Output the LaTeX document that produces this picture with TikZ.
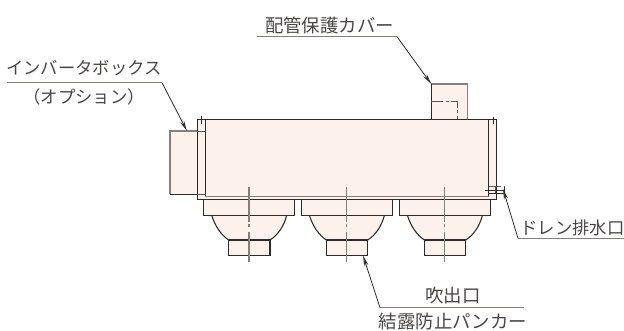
\documentclass[tikz,border=0pt]{standalone}
\usepackage{fontspec}
\setmainfont{Noto Sans CJK JP}
\usetikzlibrary{arrows.meta}
\definecolor{bodyfill}{HTML}{FCF2EB}
\definecolor{inkdark}{HTML}{2E2A2A}
\definecolor{inkgrey}{HTML}{857F7C}
\definecolor{labelink}{HTML}{4A4646}
\tikzset{
  outline/.style={draw=inkdark,line width=0.8pt,fill=bodyfill},
  softedge/.style={draw=inkgrey,line width=1pt},
  hiddenline/.style={draw=inkdark!80,line width=0.7pt,dash pattern=on 9pt off 2pt on 2pt off 2pt},
  centerline/.style={draw=inkgrey,line width=1pt,dash pattern=on 26pt off 1.5pt on 2pt off 4pt on 40pt},
  thinline/.style={draw=inkdark,line width=0.5pt},
  rule/.style={draw=inkgrey,line width=0.9pt},
  leader/.style={draw=inkdark,line width=0.6pt,-{Stealth[open,length=8pt,width=3.2pt]}},
  caption/.style={inner sep=0pt,text=labelink,font=\fontsize{13pt}{13pt}\selectfont},
  bigcaption/.style={caption,font=\fontsize{13.8pt}{14pt}\selectfont},
}
\begin{document}
\begin{tikzpicture}[x=0.75pt,y=0.75pt,yscale=-1,xscale=1]
\useasboundingbox (0,0) rectangle (624,331);

%Shape: Inverter box
\fill [bodyfill] (170,131) rectangle (197,194);
\draw [softedge] (197,131) -- (170,131) -- (170,194);
\draw [thinline] (170,194) -- (197,194);
%Shape: Cover
\fill [bodyfill] (431.3,84) rectangle (467.3,119.5);
\draw [softedge] (431.3,84) -- (467.3,84) -- (467.3,119.5);
\draw [outline,fill=none] (431.3,84) -- (431.3,119.5);
\draw [hiddenline] (431.3,101.7) -- (457.3,101.7) -- (457.3,119.5);
%Shape: Body
\draw [outline] (197.3,119.3) rectangle (496.3,199.3);
\draw [outline,fill=none] (205.3,119.3) -- (205.3,196.7);
\draw [outline,fill=none] (488.7,119.3) -- (488.7,196.7);
\draw [softedge,line width=1.4pt] (205.3,196.5) -- (488.7,196.5);
\draw [hiddenline] (197.3,131) -- (205.3,131);
\draw [hiddenline] (197.3,194) -- (205.3,194);
\draw [thinline] (201,116) -- (201,124);
\draw [thinline] (493,117) -- (493,124);

%Shape: Outlet left
\draw [outline] (211.7,215.3) .. controls (215,226) and (221,235) .. (228.7,240) -- (270,240) .. controls (278,235) and (284,226) .. (286.7,215.3) -- cycle;
\draw [outline] (203.7,199.3) rectangle (294.3,215.3);
\draw [outline] (228.7,240) rectangle (270,255.3);
\draw [centerline] (249,187.3) -- (249,261.7);
%Shape: Outlet middle
\draw [outline] (309.4,215.3) .. controls (312.7,226) and (318.7,235) .. (326.4,240) -- (367.7,240) .. controls (375.7,235) and (381.7,226) .. (384.4,215.3) -- cycle;
\draw [outline] (301.3,199.3) rectangle (392.3,215.3);
\draw [outline] (326.4,240) rectangle (367.7,255.3);
\draw [centerline] (346.7,187.3) -- (346.7,261.7);
%Shape: Outlet right
\draw [outline] (407.4,215.3) .. controls (410.7,226) and (416.7,235) .. (424.4,240) -- (465.7,240) .. controls (473.7,235) and (479.7,226) .. (482.4,215.3) -- cycle;
\draw [outline] (399.3,199.3) rectangle (490.3,215.3);
\draw [outline] (424.4,240) rectangle (465.7,255.3);
\draw [centerline] (444.7,187.3) -- (444.7,261.7);

%Shape: Drain
\draw [thinline] (489,193.3) -- (504,193.3) -- (504,186) ;
\draw [hiddenline,line width=0.5pt] (489,186) -- (504,186);
\draw [thinline] (485,190) -- (503,190);
\draw [hiddenline,line width=0.5pt] (495,186) -- (495,193);

% Text Node
\node (covertext) [bigcaption] at (329.5,25) {配管保護カバー};
\node (invertertext) [caption] at (84,68) {インバータボックス};
\node (optiontext) [caption] at (84,97) {（オプション）};
\node (draintext) [caption] at (572.5,228) {ドレン排水口};
\node (outlettext) [bigcaption] at (453,296) {吹出口};
\node (nozzletext) [bigcaption] at (453,322) {結露防止パンカー};

%Straight Lines
\coordinate (coverstart) at (257,36.7);
\coordinate (coverknee) at (397,36.7);
\coordinate (covertip) at (431.3,84);
\draw [rule] (coverstart) -- (coverknee);
\draw [leader] (coverknee) -- (covertip);

\coordinate (inverterstart) at (7,82.7);
\coordinate (inverterknee) at (162,82.7);
\coordinate (invertertip) at (187,131);
\draw [rule] (inverterstart) -- (inverterknee);
\draw [leader] (inverterknee) -- (invertertip);

\coordinate (drainend) at (624,238.3);
\coordinate (drainknee) at (518,238.3);
\coordinate (draintip) at (503,189);
\draw [rule] (drainend) -- (drainknee);
\draw [leader] (drainknee) -- (draintip);

\coordinate (outletend) at (524,307.7);
\coordinate (outletknee) at (380,307.7);
\coordinate (outlettip) at (363,255.5);
\draw [rule] (outletend) -- (outletknee);
\draw [leader] (outletknee) -- (outlettip);

\end{tikzpicture}
\end{document}
